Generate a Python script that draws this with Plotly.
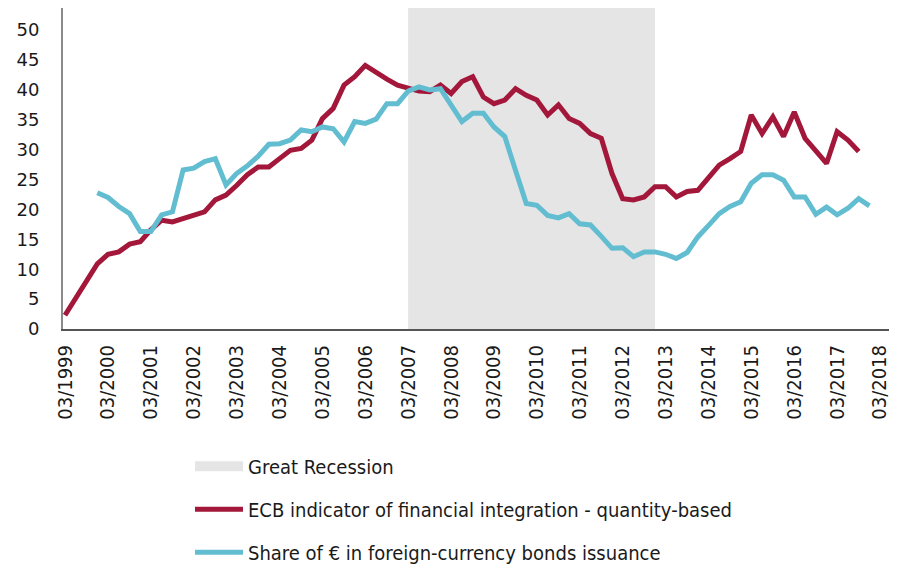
import pandas as pd
import plotly.graph_objects as go

# quarterly observations, first quarter = 03/1999
start_quarter = "1999-03-01"

ecb_quantity = [
    2.3, 5.1, 8.0, 10.9, 12.5, 12.9, 14.2, 14.6, 16.6, 18.2,
    17.9, 18.5, 19.1, 19.6, 21.6, 22.4, 24.0, 25.8, 27.1, 27.1,
    28.5, 29.9, 30.2, 31.6, 35.2, 36.9, 40.8, 42.2, 44.1, 42.9,
    41.8, 40.8, 40.2, 39.8, 39.7, 40.8, 39.4, 41.4, 42.2, 38.8,
    37.7, 38.3, 40.2, 39.1, 38.3, 35.8, 37.5, 35.2, 34.4, 32.7,
    31.9, 26.0, 21.8, 21.6, 22.1, 23.8, 23.8, 22.1, 23.0, 23.2,
    25.3, 27.4, 28.5, 29.7, 35.8, 32.7, 35.5, 32.2, 36.3, 31.9,
    29.8, 27.7, 33.0, 31.6, 29.7,
]

# euro share series begins in 12/1999
euro_share = [
    None, None, None, 22.8, 22.0, 20.5, 19.3, 16.3, 16.3, 19.1,
    19.6, 26.6, 26.9, 28.0, 28.5, 24.1, 26.0, 27.3, 28.9, 30.9,
    31.0, 31.6, 33.3, 33.0, 33.8, 33.5, 31.3, 34.7, 34.4, 35.1,
    37.7, 37.7, 39.8, 40.5, 40.0, 40.2, 37.5, 34.7, 36.1, 36.1,
    33.8, 32.2, 26.5, 21.0, 20.7, 19.0, 18.6, 19.3, 17.6, 17.4,
    15.5, 13.5, 13.6, 12.1, 12.9, 12.9, 12.5, 11.8, 12.8, 15.4,
    17.3, 19.3, 20.5, 21.3, 24.4, 25.8, 25.8, 24.9, 22.1, 22.1,
    19.2, 20.4, 19.1, 20.2, 21.8, 20.6,
]

recession_start = "2007-03-01"
recession_end = "2012-12-01"

red = "#A3173A"
cyan = "#62BDD1"
grey = "#E5E5E5"

quarters = pd.date_range(start_quarter, periods=len(euro_share), freq="QS-MAR")

fig = go.Figure()

fig.add_vrect(x0=recession_start, x1=recession_end, fillcolor=grey,
              line_width=0, layer="below")

# legend entry for the shaded band
fig.add_trace(go.Scatter(
    x=[None], y=[None], mode="lines", name="Great Recession",
    line=dict(color=grey, width=13), legendgroup="a",
))
fig.add_trace(go.Scatter(
    x=quarters[:len(ecb_quantity)], y=ecb_quantity, mode="lines",
    name="ECB indicator of financial integration - quantity-based",
    line=dict(color=red, width=5), legendgroup="b",
))
fig.add_trace(go.Scatter(
    x=quarters, y=euro_share, mode="lines",
    name="Share of € in foreign-currency bonds issuance",
    line=dict(color=cyan, width=5), legendgroup="c",
))

# page body adds an 8px offset, so the figure is sized to fit the window
fig.update_layout(
    width=889, height=561,
    margin=dict(l=55, r=4, t=0, b=240),
    plot_bgcolor="white", paper_bgcolor="white",
    font=dict(family="DejaVu Sans", color="#1a1a1a"),
    legend=dict(
        x=0.153, y=0.218, xanchor="left", yanchor="top", yref="container",
        orientation="v", itemwidth=48, tracegroupgap=14,
        font=dict(family="DejaVu Sans Condensed", size=20, color="#1a1a1a"),
    ),
    xaxis=dict(
        type="date",
        range=["1999-02-12", "2018-06-20"],
        tick0="1999-03-01", dtick="M12", tickformat="%m/%Y",
        tickangle=-90, showgrid=False, zeroline=False,
        showline=True, linecolor="#555555", linewidth=2,
        ticks="", automargin=False,
        tickfont=dict(family="DejaVu Sans Condensed", size=20), ticklabelstandoff=6,
    ),
    yaxis=dict(
        range=[0, 53.7], dtick=5, showgrid=False, zeroline=False,
        showline=True, linecolor="#8a8a8a", linewidth=2,
        ticks="", automargin=False,
        tickfont=dict(family="DejaVu Sans", size=18), ticklabelstandoff=18,
    ),
)

fig.write_html("out.html")
